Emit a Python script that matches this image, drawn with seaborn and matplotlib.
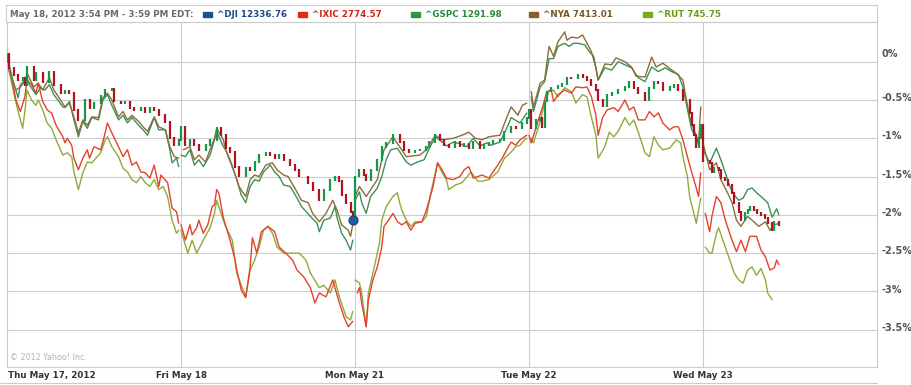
import matplotlib
matplotlib.use("Agg")
import matplotlib.pyplot as plt
import matplotlib.transforms as mtransforms
from matplotlib.patches import Rectangle
from matplotlib.lines import Line2D
import numpy as np
import pandas as pd
import seaborn as sns

# ---------------- data (5-minute bar index, % change) ----------------
BARS_PER_DAY = 78
DAY_LABELS = ["Thu May 17, 2012", "Fri May 18", "Mon May 21", "Tue May 22", "Wed May 23"]
Y_TICKS = [0, -0.5, -1, -1.5, -2, -2.5, -3, -3.5]
HEADER = "May 18, 2012 3:54 PM - 3:59 PM EDT:"
LEGEND_NAMES = ["^DJI 12336.76", "^IXIC 2774.57", "^GSPC 1291.98", "^NYA 7413.01", "^RUT 745.75"]
HOVER_BAR = 155
HOVER_PCT = -2.07

DJI_BAR = [0, 1, 3, 5, 7, 8, 9, 12, 13, 16, 19, 21, 24, 26, 28, 30, 32, 35, 37, 39, 42, 44, 47, 48, 51, 53, 55, 57, 60, 62, 64, 66, 68, 71, 73, 75, 77,
           78, 80, 82, 84, 86, 89, 91, 94, 96, 98, 100, 102, 104, 107, 109, 111, 113, 116, 118, 120, 122, 124, 127, 129, 131, 135, 137, 140, 142, 145, 147, 149, 150, 152, 154, 155,
           156, 158, 160, 161, 163, 166, 168, 170, 173, 176, 178, 180, 183, 185, 188, 189, 192, 194, 196, 198, 201, 203, 205, 207, 209, 212, 214, 216, 218, 221, 223, 226, 228, 231, 233,
           234, 235, 237, 239, 240, 241, 242, 244, 247, 249, 251, 253, 256, 258, 260, 262, 264, 265, 267, 269, 271, 274, 277, 279, 281, 283, 286, 288, 290, 292, 294, 297, 299, 301, 303, 306, 307, 308, 309, 310, 311,
           312, 315, 316, 317, 319, 320, 322, 323, 325, 326, 328, 329, 331, 332, 333, 335, 336, 338, 340, 341, 343, 344, 346]
DJI_PCT = [0.10, -0.08, -0.17, -0.24, -0.21, -0.30, -0.07, -0.24, -0.15, -0.27, -0.13, -0.30, -0.41, -0.38, -0.41, -0.63, -0.76, -0.50, -0.60, -0.54, -0.45, -0.37, -0.35, -0.52, -0.54, -0.52, -0.60, -0.63, -0.61, -0.66, -0.60, -0.63, -0.70, -0.79, -1.00, -1.09, -1.02,
           -0.85, -1.09, -1.02, -1.09, -1.15, -1.09, -1.02, -0.87, -0.96, -1.13, -1.18, -1.37, -1.50, -1.39, -1.41, -1.31, -1.22, -1.19, -1.22, -1.26, -1.22, -1.28, -1.35, -1.41, -1.50, -1.58, -1.67, -1.81, -1.67, -1.54, -1.51, -1.56, -1.74, -1.84, -1.96, -2.07,
           -1.50, -1.41, -1.48, -1.54, -1.41, -1.28, -1.11, -1.06, -0.96, -1.05, -1.15, -1.18, -1.16, -1.15, -1.11, -1.05, -0.96, -1.02, -1.09, -1.11, -1.05, -1.10, -1.08, -1.13, -1.05, -1.13, -1.09, -1.06, -1.04, -1.02, -0.92, -0.85, -0.87, -0.80, -0.73,
           -0.63, -0.87, -0.76, -0.73, -0.85, -0.52, -0.39, -0.34, -0.32, -0.29, -0.21, -0.22, -0.17, -0.20, -0.24, -0.30, -0.37, -0.50, -0.58, -0.43, -0.41, -0.37, -0.33, -0.26, -0.34, -0.41, -0.50, -0.34, -0.27, -0.28, -0.37, -0.33, -0.30, -0.37, -0.50, -0.67, -0.83, -0.96, -1.11, -1.00, -0.83,
           -1.30, -1.32, -1.44, -1.39, -1.41, -1.52, -1.54, -1.61, -1.71, -1.84, -1.96, -2.07, -1.98, -1.94, -1.90, -1.94, -1.98, -2.00, -2.04, -2.11, -2.20, -2.09, -2.13]

IXIC_BAR = [0, 2, 4, 6, 8, 9, 11, 13, 14, 16, 18, 20, 22, 25, 26, 27, 29, 30, 32, 34, 36, 37, 39, 42, 44, 45, 47, 50, 52, 54, 56, 58, 60, 62, 64, 66, 68, 69, 72, 74, 76, 77,
            78, 80, 82, 83, 85, 86, 88, 90, 92, 93, 94, 95, 97, 100, 102, 103, 105, 107, 109, 110, 112, 114, 117, 120, 122, 125, 128, 130, 133, 136, 138, 140, 143, 146, 149, 151, 153, 155,
            157, 158, 159, 161, 162, 164, 166, 168, 169, 171, 173, 175, 177, 179, 181, 183, 186, 188, 191, 193, 195, 197, 200, 203, 205, 207, 209, 213, 216, 220, 222, 224, 226, 228, 230, 233,
            234, 235, 238, 240, 242, 244, 245, 247, 250, 253, 255, 258, 260, 262, 264, 265, 267, 269, 272, 274, 277, 279, 281, 283, 286, 288, 290, 292, 294, 297, 299, 301, 303, 305, 307, 309, 310, 311,
            313, 315, 316, 318, 320, 322, 325, 327, 329, 331, 333, 336, 338, 340, 342, 344, 345, 346]
IXIC_PCT = [0.07, -0.20, -0.50, -0.65, -0.46, -0.24, -0.30, -0.41, -0.28, -0.52, -0.63, -0.67, -0.83, -0.98, -1.06, -1.00, -1.09, -1.26, -1.41, -1.26, -1.15, -1.26, -1.11, -1.15, -0.93, -0.80, -0.93, -1.11, -1.24, -1.15, -1.35, -1.31, -1.44, -1.45, -1.52, -1.35, -1.63, -1.48, -1.58, -1.91, -1.96, -2.11,
            -2.13, -2.33, -2.13, -2.26, -2.17, -2.07, -2.24, -2.13, -1.89, -1.87, -1.67, -1.72, -2.04, -2.33, -2.56, -2.72, -2.98, -3.08, -2.68, -2.30, -2.50, -2.22, -2.15, -2.22, -2.42, -2.50, -2.59, -2.72, -2.81, -2.95, -3.15, -3.02, -3.07, -2.85, -3.15, -3.33, -3.46, -3.39,
            -3.02, -2.95, -3.15, -3.46, -3.11, -2.85, -2.68, -2.42, -2.15, -2.07, -1.98, -2.09, -2.13, -2.09, -2.20, -2.11, -2.09, -1.94, -1.63, -1.32, -1.41, -1.52, -1.54, -1.50, -1.41, -1.37, -1.52, -1.48, -1.52, -1.35, -1.26, -1.15, -1.05, -1.09, -1.02, -0.96,
            -0.96, -1.06, -0.78, -0.60, -0.39, -0.37, -0.52, -0.43, -0.37, -0.41, -0.33, -0.34, -0.33, -0.46, -0.70, -0.96, -0.73, -0.63, -0.60, -0.65, -0.50, -0.63, -0.59, -0.76, -0.76, -0.65, -0.72, -0.67, -0.80, -0.89, -0.85, -0.85, -1.02, -1.24, -1.45, -1.65, -1.76, -1.45,
            -1.98, -2.22, -2.02, -1.76, -1.84, -2.07, -2.33, -2.48, -2.33, -2.48, -2.28, -2.28, -2.46, -2.55, -2.72, -2.69, -2.59, -2.65]

GSPC_BAR = [0, 3, 5, 6, 9, 10, 13, 15, 17, 19, 21, 25, 26, 28, 30, 32, 34, 36, 38, 41, 43, 45, 47, 50, 52, 54, 56, 59, 61, 63, 66, 68, 71, 73, 74, 76, 77,
            78, 80, 82, 84, 86, 88, 91, 93, 94, 97, 98, 100, 103, 105, 107, 109, 111, 113, 115, 118, 120, 122, 124, 127, 130, 132, 136, 139, 140, 142, 145, 147, 148, 150, 152, 154, 155,
            156, 158, 159, 161, 163, 166, 168, 170, 172, 175, 177, 179, 181, 184, 187, 189, 192, 194, 197, 200, 203, 206, 209, 212, 215, 217, 221, 224, 226, 230, 233,
            235, 236, 239, 241, 243, 245, 247, 250, 252, 254, 256, 259, 261, 263, 265, 268, 271, 274, 277, 280, 283, 286, 289, 292, 295, 298, 301, 303, 306, 307, 309, 310, 311,
            312, 315, 318, 320, 322, 324, 326, 328, 330, 332, 334, 336, 338, 341, 343, 345, 346]
GSPC_PCT = [0.07, -0.28, -0.47, -0.30, -0.21, -0.30, -0.43, -0.34, -0.37, -0.30, -0.43, -0.59, -0.60, -0.52, -0.76, -0.98, -0.78, -0.87, -0.73, -0.76, -0.50, -0.43, -0.57, -0.76, -0.70, -0.80, -0.73, -0.83, -0.89, -0.96, -0.73, -0.89, -0.89, -1.15, -1.32, -1.26, -1.37,
            -1.22, -1.24, -1.15, -1.35, -1.28, -1.37, -1.22, -1.02, -0.91, -1.11, -1.15, -1.28, -1.54, -1.74, -1.84, -1.63, -1.54, -1.56, -1.44, -1.35, -1.44, -1.50, -1.61, -1.63, -1.78, -1.89, -2.02, -2.11, -2.22, -2.07, -2.04, -1.89, -2.04, -2.24, -2.33, -2.46, -2.33,
            -1.81, -1.70, -1.84, -1.98, -1.76, -1.65, -1.50, -1.28, -1.15, -1.13, -1.22, -1.31, -1.35, -1.31, -1.28, -1.15, -0.98, -1.02, -1.10, -1.05, -1.07, -1.11, -1.00, -1.10, -1.06, -1.09, -1.05, -0.87, -0.73, -0.80, -0.67,
            -0.46, -0.65, -0.33, -0.26, 0.04, 0.04, 0.20, 0.24, 0.20, 0.24, 0.24, 0.22, 0.13, 0.07, -0.24, -0.08, -0.11, 0.00, -0.04, -0.08, -0.21, -0.26, -0.07, -0.13, -0.08, -0.13, -0.17, -0.33, -0.76, -0.89, -0.98, -1.09, -0.83,
            -1.15, -1.32, -1.13, -1.28, -1.45, -1.63, -1.74, -1.81, -1.78, -1.67, -1.65, -1.71, -1.76, -1.84, -2.03, -1.92, -2.00]

NYA_BAR = [0, 1, 4, 6, 8, 9, 12, 14, 16, 19, 21, 24, 26, 28, 30, 32, 34, 36, 38, 41, 43, 45, 47, 50, 52, 54, 56, 59, 61, 63, 66, 68, 71, 73, 75, 77,
           79, 82, 84, 86, 89, 91, 93, 94, 97, 98, 102, 104, 107, 109, 111, 113, 116, 119, 121, 124, 126, 129, 132, 135, 137, 140, 143, 146, 148, 150, 153, 154, 155,
           156, 158, 161, 166, 169, 173, 176, 179, 185, 188, 192, 195, 200, 204, 207, 210, 213, 216, 221, 224, 226, 229, 231, 233,
           235, 236, 239, 241, 243, 245, 247, 250, 251, 253, 256, 258, 260, 262, 264, 265, 268, 271, 273, 277, 280, 282, 286, 289, 291, 294, 298, 300, 303, 304, 306, 308, 310, 311,
           312, 315, 318, 320, 323, 325, 327, 329, 332, 334, 337, 340, 342, 344, 346]
NYA_PCT = [0.07, -0.13, -0.37, -0.33, -0.26, -0.15, -0.33, -0.28, -0.37, -0.21, -0.37, -0.50, -0.59, -0.54, -0.72, -0.93, -0.76, -0.83, -0.72, -0.73, -0.47, -0.41, -0.50, -0.72, -0.65, -0.76, -0.70, -0.78, -0.85, -0.91, -0.72, -0.85, -0.89, -1.11, -1.24, -1.26,
           -1.15, -1.11, -1.28, -1.22, -1.31, -1.15, -1.00, -0.87, -1.02, -1.15, -1.45, -1.63, -1.76, -1.54, -1.48, -1.50, -1.35, -1.32, -1.41, -1.48, -1.50, -1.65, -1.81, -1.84, -1.98, -2.09, -1.98, -1.81, -1.94, -2.13, -2.20, -2.28, -2.13,
           -1.76, -1.63, -1.76, -1.54, -1.15, -0.98, -1.11, -1.24, -1.22, -1.15, -0.96, -1.02, -1.00, -0.96, -0.92, -1.00, -1.02, -0.98, -0.96, -0.73, -0.59, -0.70, -0.57, -0.54,
           -0.39, -0.59, -0.28, -0.24, 0.20, 0.07, 0.26, 0.39, 0.28, 0.32, 0.31, 0.35, 0.24, 0.13, -0.08, -0.24, -0.03, -0.04, 0.05, 0.00, -0.07, -0.19, -0.20, 0.06, -0.07, -0.02, -0.11, -0.15, -0.24, -0.41, -0.72, -0.89, -1.06, -0.59,
           -1.06, -1.41, -1.32, -1.54, -1.71, -1.84, -2.07, -2.15, -2.02, -2.07, -2.15, -2.09, -2.20, -2.13, -2.11]

RUT_BAR = [0, 3, 5, 7, 8, 9, 11, 13, 14, 16, 18, 20, 22, 25, 27, 29, 30, 32, 34, 36, 38, 42, 44, 45, 47, 50, 52, 54, 56, 58, 60, 62, 64, 66, 68, 70, 72, 74, 76, 77,
           78, 81, 83, 85, 88, 91, 93, 94, 97, 98, 101, 103, 107, 109, 111, 113, 115, 117, 119, 121, 124, 128, 131, 134, 136, 140, 142, 145, 147, 149, 152, 154, 155,
           156, 158, 159, 161, 162, 164, 166, 167, 168, 170, 173, 175, 176, 177, 179, 181, 183, 186, 188, 190, 192, 193, 195, 197, 198, 201, 204, 208, 211, 213, 216, 220, 223, 226, 228, 230, 232, 233,
           235, 236, 239, 241, 243, 245, 247, 250, 253, 255, 258, 260, 262, 264, 265, 268, 270, 272, 274, 277, 279, 281, 283, 286, 288, 290, 292, 294, 297, 300, 302, 303, 305, 306, 309, 310, 311,
           313, 315, 316, 318, 319, 322, 324, 326, 328, 330, 332, 334, 336, 338, 340, 341, 343]
RUT_PCT = [0.02, -0.41, -0.65, -0.87, -0.65, -0.37, -0.50, -0.57, -0.50, -0.63, -0.80, -0.87, -1.02, -1.22, -1.19, -1.24, -1.44, -1.67, -1.45, -1.31, -1.32, -1.19, -1.02, -0.98, -1.11, -1.24, -1.39, -1.44, -1.54, -1.58, -1.50, -1.58, -1.63, -1.54, -1.67, -1.63, -1.76, -2.07, -2.24, -2.20,
           -2.20, -2.50, -2.33, -2.50, -2.33, -2.17, -1.98, -1.81, -2.07, -2.15, -2.33, -2.76, -3.07, -2.72, -2.59, -2.42, -2.20, -2.15, -2.24, -2.42, -2.50, -2.50, -2.50, -2.59, -2.76, -2.95, -2.92, -3.02, -2.85, -3.07, -3.33, -3.37, -3.26,
           -2.85, -2.89, -3.02, -3.46, -3.02, -2.76, -2.50, -2.37, -2.07, -1.89, -1.76, -1.71, -1.84, -1.94, -2.07, -2.15, -2.09, -2.09, -2.02, -1.71, -1.45, -1.32, -1.45, -1.54, -1.67, -1.61, -1.58, -1.44, -1.56, -1.56, -1.54, -1.44, -1.26, -1.18, -1.11, -1.09, -1.02, -1.00,
           -1.00, -1.06, -0.78, -0.54, -0.39, -0.37, -0.46, -0.34, -0.39, -0.54, -0.43, -0.46, -0.73, -0.96, -1.26, -1.11, -0.92, -0.98, -0.91, -0.73, -0.83, -0.76, -0.92, -1.19, -1.24, -0.98, -1.09, -1.15, -1.13, -1.02, -1.06, -1.24, -1.50, -1.76, -2.11, -1.94, -1.78,
           -2.42, -2.50, -2.50, -2.24, -2.17, -2.42, -2.59, -2.76, -2.85, -2.89, -2.72, -2.68, -2.79, -2.70, -2.85, -3.02, -3.11]

# ---------------- styling ----------------
LINE_COLORS = {"^IXIC": "#e5412c", "^GSPC": "#3f8e58", "^NYA": "#8d6c3c", "^RUT": "#8eab3a"}
SWATCH_COLORS = ["#1f4f8f", "#e02a1a", "#2e9444", "#8a5f2e", "#78a81e"]
TEXT_COLORS = ["#1d4b87", "#cc2418", "#2a8a3c", "#7a5526", "#6b9a18"]
UP, DOWN = "#13994a", "#b0121f"
GRID = "#cccccc"

sns.set_style("white")
plt.rcParams["font.family"] = ["DejaVu Sans"]

W, H = 911, 385
fig = plt.figure(figsize=(W / 100, H / 100), dpi=100)
L, R, T, B = 7, 877, 22, 367
ax = fig.add_axes([L / W, 1 - B / H, (R - L) / W, (B - T) / H])

frames = []
for name, bars, pcts in [("^IXIC", IXIC_BAR, IXIC_PCT), ("^GSPC", GSPC_BAR, GSPC_PCT),
                         ("^NYA", NYA_BAR, NYA_PCT), ("^RUT", RUT_BAR, RUT_PCT)]:
    d = pd.DataFrame({"bar": bars, "pct": pcts})
    d["series"] = name
    frames.append(d)
df = pd.concat(frames, ignore_index=True)
df["day"] = df["bar"] // BARS_PER_DAY

sns.lineplot(data=df, x="bar", y="pct", hue="series", units="day", estimator=None,
             palette=LINE_COLORS, hue_order=["^RUT", "^IXIC", "^GSPC", "^NYA"],
             linewidth=1.0, legend=False, ax=ax, zorder=2)

# DJI candles
dji = pd.DataFrame({"bar": DJI_BAR, "close": DJI_PCT})
dji["open"] = dji["close"].shift(1).fillna(0.0)
up = dji["close"] >= dji["open"]
lo = np.minimum(dji["open"], dji["close"]) - 0.012
hi = np.maximum(dji["open"], dji["close"]) + 0.012
ax.vlines(dji["bar"], lo, hi, colors=np.where(up, UP, DOWN), linewidth=1.6, zorder=4)
ax.plot([HOVER_BAR], [HOVER_PCT], marker="o", ms=6.5, mfc="#215d9c", mec="#163f6e", mew=0.8, zorder=5)

n_days = len(DAY_LABELS)
ax.set_xlim(0, n_days * BARS_PER_DAY)
ax.set_ylim(-3.986, 0.518)
ax.set_xticks([])
ax.set_yticks([])
ax.set_xlabel("")
ax.set_ylabel("")
for v in Y_TICKS:
    ax.axhline(v, color=GRID, lw=0.8, zorder=0)
for d in range(1, n_days):
    ax.axvline(d * BARS_PER_DAY, color=GRID, lw=0.8, zorder=0)
for s in ax.spines.values():
    s.set_color(GRID)
    s.set_linewidth(0.8)

# y labels on the right
ytr = mtransforms.blended_transform_factory(ax.transAxes, ax.transData)
for v in Y_TICKS:
    off = 0.10 if v == 0 else 0.025
    ax.text(1.005, v + off, f"{v:g}%", transform=ytr, ha="left", va="center",
            fontsize=7, color="#555555", fontweight="bold")

# x labels
xtr = mtransforms.blended_transform_factory(ax.transData, fig.transFigure)
ly = 1 - 376 / H
fig.text(8 / W, ly, DAY_LABELS[0], ha="left", va="center", fontsize=6.3,
         fontweight="bold", color="#333333")
for d in range(1, n_days):
    ax.text(d * BARS_PER_DAY, ly, DAY_LABELS[d], transform=xtr, ha="center", va="center",
            fontsize=6.3, fontweight="bold", color="#333333")
fig.add_artist(Line2D([0, R / W], [1 - 383 / H, 1 - 383 / H], color=GRID, lw=0.8,
                      transform=fig.transFigure))

# header box and legend
fig.add_artist(Rectangle((6 / W, 1 - T / H), (R - 6) / W, (T - 5) / H, fill=False,
                         ec=GRID, lw=0.8, transform=fig.transFigure))
hy = 1 - 14.5 / H
fig.text(10 / W, hy, HEADER, ha="left", va="center", fontsize=6.3, fontweight="bold",
         color="#6a6a6a")
sw_x = [203, 298, 411, 529, 643]
for i, name in enumerate(LEGEND_NAMES):
    fig.add_artist(Rectangle((sw_x[i] / W, 1 - 16.5 / H), 9 / W, 4 / H, color=SWATCH_COLORS[i],
                             transform=fig.transFigure))
    fig.text((sw_x[i] + 14) / W, hy, name, ha="left", va="center", fontsize=6.3,
             fontweight="bold", color=TEXT_COLORS[i])

fig.text(10 / W, 1 - 358 / H, "\u00a9 2012 Yahoo! Inc.", ha="left", va="center",
         fontsize=5.8, color="#aab3c6")

fig.savefig("out.png", dpi=100)
